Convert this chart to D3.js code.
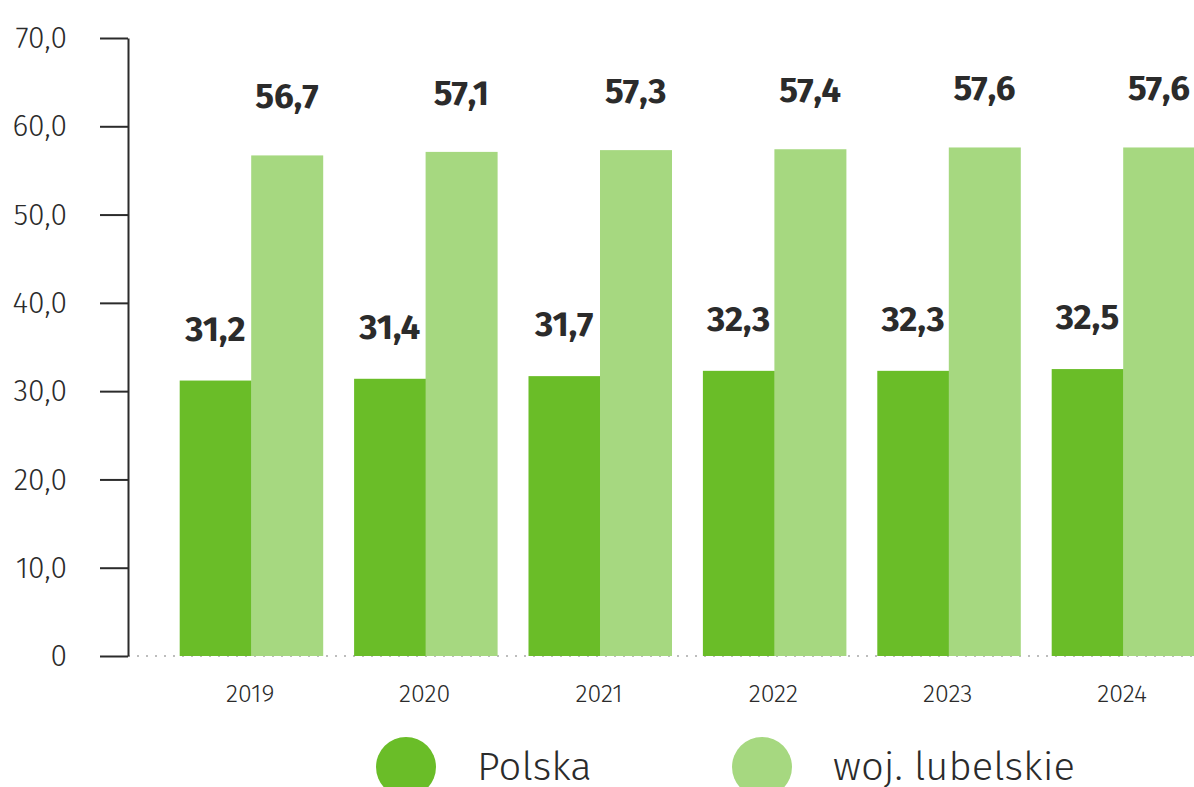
<!DOCTYPE html>
<html>
<head>
<meta charset="utf-8">
<script src="https://cdn.jsdelivr.net/npm/d3@7"></script>
<style>
  html, body { margin: 0; padding: 0; background: #fff; }
  svg { display: block; font-family: "Fira Sans", "Open Sans", sans-serif; }
</style>
</head>
<body>
<div id="container"></div>
<script>
/* CONSTANTS AND GLOBALS */
const width = 1194,
  height = 787;

const years = ["2019", "2020", "2021", "2022", "2023", "2024"];
const seriesNames = ["Polska", "woj. lubelskie"];
const polska = [31.2, 31.4, 31.7, 32.3, 32.3, 32.5];
const lubelskie = [56.7, 57.1, 57.3, 57.4, 57.6, 57.6];
const yTicks = [0, 10, 20, 30, 40, 50, 60, 70];
const colors = ["#6abd28", "#a6d880"];

const data = years.map((y, i) => ({ year: y, values: [polska[i], lubelskie[i]] }));

const pl = d3.formatLocale({ decimal: ",", thousands: " ", grouping: [3], currency: ["", ""] });
const fmt1 = pl.format(".1f");

const svg = d3.select("#container")
  .append("svg")
  .attr("width", width)
  .attr("height", height);

/* SCALES */
const yScale = d3.scaleLinear()
  .domain([0, 70])
  .range([656, 38]);

const xScale = d3.scaleBand()
  .domain(years)
  .range([164, 1210.4])
  .paddingInner(0.18)
  .paddingOuter(0.09);

const xSub = d3.scaleBand()
  .domain([0, 1])
  .range([0, xScale.bandwidth()]);

/* BASELINE */
svg.append("line")
  .attr("x1", 128)
  .attr("x2", width)
  .attr("y1", yScale(0))
  .attr("y2", yScale(0))
  .attr("stroke", "#bdbdbd")
  .attr("stroke-width", 2)
  .attr("stroke-dasharray", "2,7");

/* BARS */
const groups = svg.selectAll(".group")
  .data(data)
  .join("g")
  .attr("class", "group")
  .attr("transform", d => `translate(${xScale(d.year)},0)`);

groups.selectAll("rect")
  .data(d => d.values.map((v, i) => ({ v, i })))
  .join("rect")
  .attr("x", d => xSub(d.i))
  .attr("y", d => yScale(d.v))
  .attr("width", xSub.bandwidth() + 0.5)
  .attr("height", d => yScale(0) - yScale(d.v))
  .attr("fill", d => colors[d.i]);

// value labels
groups.selectAll("text.val")
  .data(d => d.values.map((v, i) => ({ v, i })))
  .join("text")
  .attr("class", "val")
  .attr("x", d => xSub(d.i) + xSub.bandwidth() / 2)
  .attr("y", d => yScale(d.v) - (d.i === 0 ? 40 : 47))
  .attr("text-anchor", "middle")
  .attr("font-size", 35)
  .attr("font-weight", 700)
  .attr("fill", "#2b2b2b")
  .text(d => fmt1(d.v));

/* AXES */
const yAxis = svg.append("g")
  .attr("class", "y-axis")
  .attr("transform", "translate(128,0)")
  .call(d3.axisLeft(yScale)
    .tickValues(yTicks)
    .tickSize(28)
    .tickSizeOuter(0)
    .tickPadding(33)
    .tickFormat(d => d === 0 ? "0" : fmt1(d)));

yAxis.select(".domain").attr("stroke", "#2b2b2b").attr("stroke-width", 2);
yAxis.selectAll(".tick line").attr("stroke", "#2b2b2b").attr("stroke-width", 2);
yAxis.selectAll(".tick text")
  .attr("font-family", "\"Fira Sans\", \"Open Sans\", sans-serif")
  .attr("font-size", 30)
  .attr("font-weight", 300)
  .attr("fill", "#2b2b2b");

// year labels
svg.selectAll(".year")
  .data(years)
  .join("text")
  .attr("class", "year")
  .attr("x", d => xScale(d) + xScale.bandwidth() / 2 - 1)
  .attr("y", 702)
  .attr("text-anchor", "middle")
  .attr("font-size", 25)
  .attr("font-weight", 300)
  .attr("fill", "#2b2b2b")
  .text(d => d);

/* LEGEND */
const legendX = [406, 762];
const legend = svg.selectAll(".legend")
  .data(seriesNames)
  .join("g")
  .attr("class", "legend")
  .attr("transform", (d, i) => `translate(${legendX[i]},767)`);

legend.append("circle")
  .attr("r", 30)
  .attr("fill", (d, i) => colors[i]);

legend.append("text")
  .attr("x", 71)
  .attr("y", 13)
  .attr("font-size", 40)
  .attr("font-weight", 300)
  .attr("fill", "#2b2b2b")
  .text(d => d);
</script>
</body>
</html>
